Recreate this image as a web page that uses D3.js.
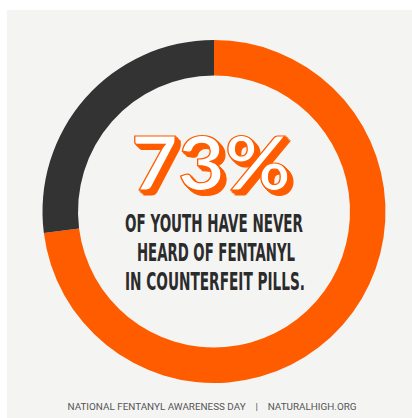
<!DOCTYPE html>
<html>
<head>
<meta charset="utf-8">
<script src="https://cdn.jsdelivr.net/npm/d3@7"></script>
<style>
  html, body { margin: 0; padding: 0; background: #fff; }
  svg { display: block; }
</style>
</head>
<body>
<div id="chart"></div>
<script>
// data
var segments = ['never heard', 'heard'];
var values = [73, 27];
var headline = ['73%'];
var subLines = ['OF YOUTH HAVE NEVER', 'HEARD OF FENTANYL', 'IN COUNTERFEIT PILLS.'];
var footer = ['NATIONAL FENTANYL AWARENESS DAY', '|', 'NATURALHIGH.ORG'];

var width = 412, height = 418;
var orange = '#ff5c00';
var dark = '#333333';

var svg = d3.select('#chart').append('svg')
  .attr('width', width)
  .attr('height', height);

// extrusion filter for the big number
var defs = svg.append('defs');
var filter = defs.append('filter')
  .attr('id', 'extrude')
  .attr('x', '-10%').attr('y', '-10%')
  .attr('width', '130%').attr('height', '130%');
var steps = d3.range(1, 7);
steps.forEach(function (s) {
  filter.append('feOffset')
    .attr('in', 'SourceAlpha')
    .attr('dx', s * 0.75).attr('dy', s * 0.75)
    .attr('result', 'o' + s);
});
var m1 = filter.append('feMerge').attr('result', 'stack');
steps.forEach(function (s) { m1.append('feMergeNode').attr('in', 'o' + s); });
filter.append('feFlood').attr('flood-color', orange).attr('result', 'col');
filter.append('feComposite')
  .attr('in', 'col').attr('in2', 'stack')
  .attr('operator', 'in').attr('result', 'shadow');
var m2 = filter.append('feMerge');
m2.append('feMergeNode').attr('in', 'shadow');
m2.append('feMergeNode').attr('in', 'SourceGraphic');

// paper background
svg.append('rect')
  .attr('x', 7).attr('y', 10)
  .attr('width', width - 7).attr('height', height - 10)
  .attr('fill', '#f4f4f3');

var color = d3.scaleOrdinal()
  .domain(segments)
  .range([orange, dark]);

var pie = d3.pie().sort(null).value(function (d) { return d; });

var arc = d3.arc()
  .innerRadius(136)
  .outerRadius(171.5);

var g = svg.append('g')
  .attr('transform', 'translate(214,211.5)');

g.selectAll('path')
  .data(pie(values))
  .enter().append('path')
  .attr('d', arc)
  .attr('fill', function (d, i) { return color(segments[i]); });

// big number
svg.append('text')
  .attr('x', 211)
  .attr('y', 190)
  .attr('text-anchor', 'middle')
  .attr('font-family', 'Lato, sans-serif')
  .attr('font-weight', 700)
  .attr('font-size', 74)
  .attr('textLength', 160)
  .attr('lengthAdjust', 'spacingAndGlyphs')
  .attr('fill', '#fff')
  .attr('stroke', orange)
  .attr('stroke-width', 1.2)
  .attr('filter', 'url(#extrude)')
  .text(headline[0]);

// sub text
var lineX = [[125, 303], [137, 295], [125, 305]];
svg.selectAll('text.sub')
  .data(subLines)
  .enter().append('text')
  .attr('class', 'sub')
  .attr('x', function (d, i) { return (lineX[i][0] + lineX[i][1]) / 2; })
  .attr('y', function (d, i) { return 232 + i * 29; })
  .attr('text-anchor', 'middle')
  .attr('font-family', '"DejaVu Sans Condensed", "Liberation Sans Narrow", sans-serif')
  .attr('font-weight', 'bold')
  .attr('font-size', 24)
  .attr('textLength', function (d, i) { return lineX[i][1] - lineX[i][0]; })
  .attr('lengthAdjust', 'spacingAndGlyphs')
  .attr('fill', '#2b2b2b')
  .text(function (d) { return d; });

// footer
svg.append('text')
  .attr('x', 212)
  .attr('y', 410)
  .attr('text-anchor', 'middle')
  .attr('font-family', 'Roboto, sans-serif')
  .attr('font-size', 9.5)
  .attr('fill', '#555')
  .attr('textLength', 289)
  .attr('lengthAdjust', 'spacingAndGlyphs')
  .attr('xml:space', 'preserve')
  .text(footer.join('    '));
</script>
</body>
</html>
